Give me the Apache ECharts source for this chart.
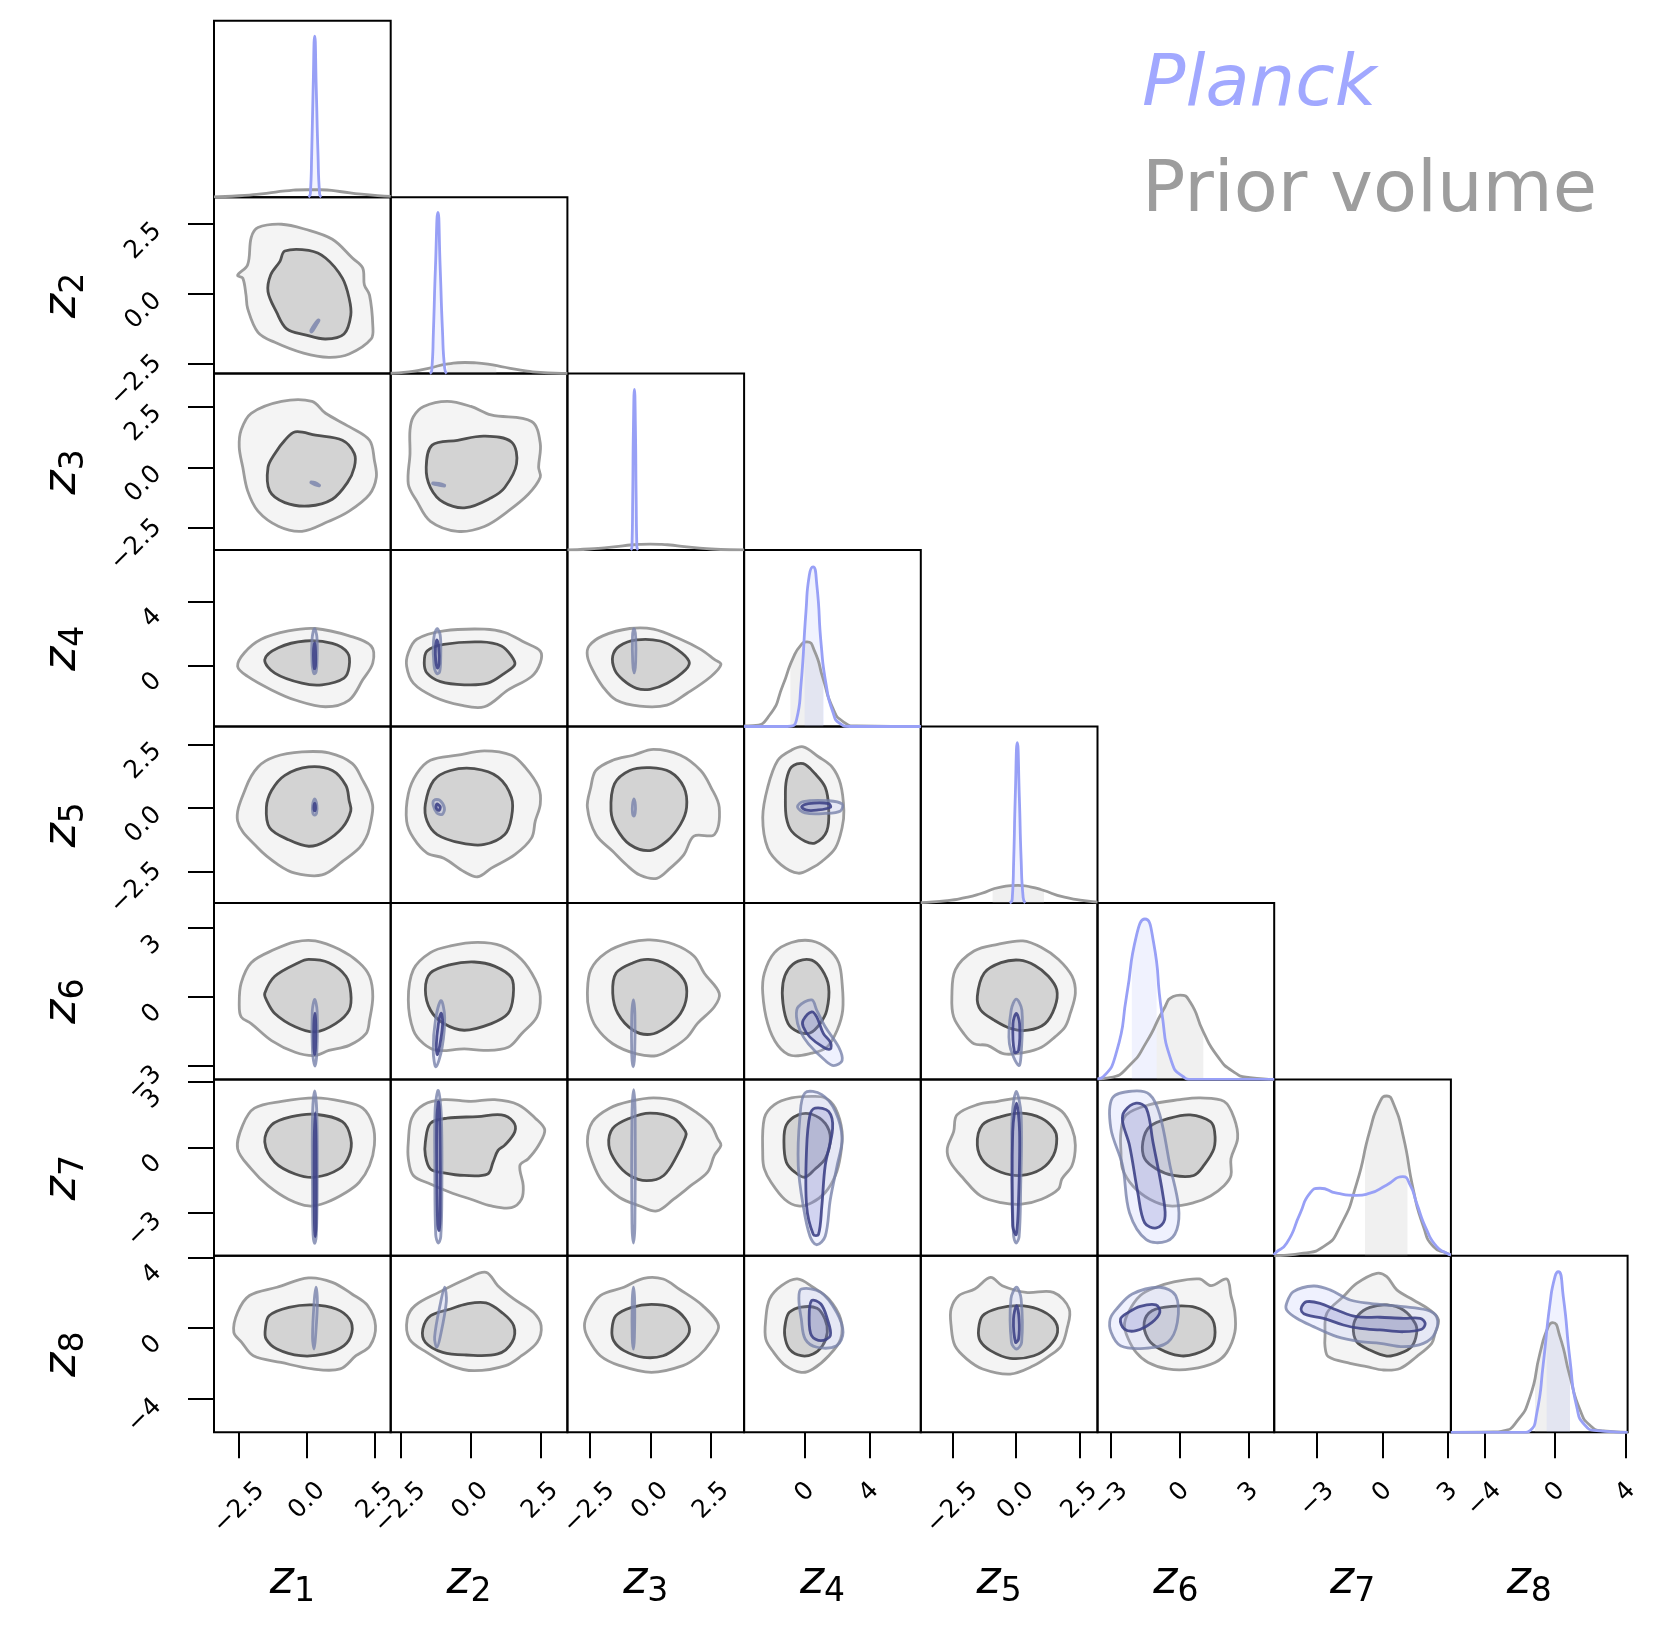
<!DOCTYPE html>
<html><head><meta charset="utf-8">
<script src="https://cdn.jsdelivr.net/npm/echarts@6/dist/echarts.min.js"></script>
<style>html,body{margin:0;padding:0;background:#fff}#c{width:1661px;height:1628px}</style>
</head><body><div id="c"></div><script>
// ---------- axes / variables ----------
const VARS = ['1','2','3','4','5','6','7','8'];
const VMIN = [-3.43,-2.85,-3.40,-3.80,-3.74,-3.58,-4.97,-5.90];
const VMAX = [3.08,3.47,3.85,7.20,3.20,4.10,3.13,4.10];
const TICKS = [[-2.5,0,2.5],[-2.5,0,2.5],[-2.5,0,2.5],[0,4],[-2.5,0,2.5],[-3,0,3],[-3,0,3],[-4,0,4]];
const TICK_DEC = [1,1,1,0,1,0,0,0];

// ---------- 2D contours (prior: P, Planck: Q; o = outer, i = inner) ----------
const P12o=[[-1.81,2.38],[-0.94,2.50],[-0.07,2.32],[0.93,1.96],[1.67,1.29],[2.05,0.93],[2.11,0.33],[2.30,-0.04],[2.42,-1.12],[2.36,-1.61],[1.55,-2.15],[0.80,-2.27],[-0.13,-2.12],[-1.19,-1.73],[-1.81,-1.37],[-2.19,-0.52],[-2.25,-0.04],[-2.37,0.57],[-2.56,0.67],[-2.19,1.05],[-2.06,2.02]];
const P12i=[[-0.82,1.54],[0.06,1.56],[0.68,1.29],[1.30,0.57],[1.55,-0.16],[1.61,-0.76],[1.36,-1.43],[0.68,-1.61],[-0.07,-1.46],[-0.75,-1.25],[-1.13,-0.64],[-1.44,0.08],[-1.34,0.69],[-1.00,1.17]];
const Q12o=[[0.15,-1.36],[0.22,-1.30],[0.38,-1.05],[0.44,-0.94],[0.40,-0.93],[0.26,-1.10],[0.14,-1.30]];

const P13o=[[-2.43,1.53],[-2.06,2.22],[-0.94,2.71],[0.18,2.71],[0.68,2.22],[1.55,1.67],[2.30,1.11],[2.48,0.28],[2.55,-0.41],[2.30,-1.11],[1.55,-1.80],[0.80,-2.22],[-0.19,-2.63],[-1.06,-2.42],[-1.81,-1.80],[-2.19,-0.97],[-2.37,0.00],[-2.50,0.83]];
const P13i=[[-0.82,1.11],[-0.44,1.46],[0.31,1.32],[1.30,1.11],[1.74,0.56],[1.74,0.00],[1.49,-0.62],[0.93,-1.31],[0.06,-1.59],[-0.82,-1.45],[-1.38,-0.97],[-1.44,0.00],[-1.19,0.56]];
const Q13o=[[0.15,-0.60],[0.30,-0.63],[0.46,-0.74],[0.44,-0.76],[0.28,-0.71],[0.14,-0.63]];

const P23o=[[-2.04,2.08],[-1.67,2.50],[-0.83,2.71],[0.02,2.50],[0.74,2.15],[2.19,1.88],[2.50,0.98],[2.44,0.00],[2.50,-0.41],[2.07,-1.11],[1.35,-1.80],[0.50,-2.43],[-0.46,-2.63],[-1.43,-2.22],[-1.92,-1.38],[-2.22,-0.69],[-2.16,0.56],[-2.16,1.53]];
const P23i=[[-1.37,0.91],[-0.46,1.11],[0.50,1.28],[1.47,1.04],[1.65,0.14],[1.23,-0.83],[0.75,-1.25],[-0.16,-1.66],[-0.95,-1.45],[-1.43,-0.83],[-1.58,0.00]];
const Q23o=[[-1.34,-0.64],[-1.13,-0.66],[-0.92,-0.74],[-0.93,-0.77],[-1.14,-0.73],[-1.35,-0.67]];

const P14o=[[-2.56,-0.05],[-2.31,0.80],[-1.69,1.64],[-0.69,2.16],[0.30,2.31],[1.55,1.85],[2.36,1.22],[2.42,0.16],[2.05,-0.89],[1.55,-2.15],[0.68,-2.57],[-0.44,-2.15],[-1.31,-1.52],[-2.19,-0.68]];
const P14i=[[-1.56,0.37],[-1.06,1.11],[-0.07,1.53],[0.93,1.38],[1.49,0.80],[1.55,-0.05],[1.36,-0.78],[0.55,-1.20],[-0.19,-1.10],[-1.19,-0.47]];
const Q14o=[[0.27,2.3],[0.36,1.8],[0.37,0.5],[0.33,-0.4],[0.25,-0.5],[0.18,0.2],[0.18,1.6]];
const Q14i=[[0.28,1.4],[0.31,0.9],[0.31,0.0],[0.27,-0.2],[0.24,0.3],[0.24,1.0]];

const P24o=[[-2.22,0.80],[-1.92,1.64],[-0.95,2.16],[0.50,2.27],[1.23,2.06],[1.95,1.43],[2.50,0.90],[2.50,0.16],[2.19,-0.68],[1.35,-1.52],[0.50,-2.57],[-0.34,-2.47],[-1.31,-1.94],[-2.04,-1.10],[-2.28,-0.05]];
const P24i=[[-1.55,0.90],[-0.95,1.32],[0.38,1.47],[1.11,1.22],[1.47,0.59],[1.59,0.06],[1.23,-0.47],[0.62,-1.10],[-0.22,-1.20],[-1.07,-1.00],[-1.55,-0.47],[-1.65,0.16]];
const Q24o=[[-1.2,2.3],[-1.08,1.9],[-1.06,0.6],[-1.1,-0.4],[-1.2,-0.5],[-1.3,0.0],[-1.32,1.5]];
const Q24i=[[-1.2,1.6],[-1.13,1.1],[-1.12,0.1],[-1.18,-0.15],[-1.24,0.3],[-1.25,1.1]];

const P34o=[[-2.51,1.22],[-1.95,1.85],[-0.84,2.31],[0.13,2.27],[1.24,1.64],[2.07,1.01],[2.63,0.38],[2.90,0.06],[2.49,-0.68],[1.51,-1.73],[0.68,-2.47],[-0.43,-2.53],[-1.40,-2.15],[-1.95,-1.31],[-2.37,-0.26],[-2.58,0.59]];
const P34i=[[-1.54,0.59],[-1.26,1.22],[-0.56,1.60],[0.41,1.53],[1.10,1.01],[1.59,0.27],[1.45,-0.26],[0.69,-1.10],[-0.01,-1.48],[-0.56,-1.42],[-1.12,-0.89],[-1.46,-0.26]];
const Q34o=[[-0.67,2.3],[-0.6,1.8],[-0.6,0.2],[-0.66,-0.45],[-0.72,0.2],[-0.73,1.8]];

const P15o=[[-2.56,-0.52],[-2.25,0.81],[-1.81,1.61],[-1.19,2.01],[-0.19,2.20],[0.80,2.16],[1.67,1.74],[2.05,1.08],[2.30,0.55],[2.42,0.02],[2.30,-0.78],[2.17,-1.18],[1.92,-1.58],[1.30,-2.11],[0.55,-2.64],[-0.44,-2.57],[-1.06,-2.24],[-1.81,-1.58]];
const P15i=[[-1.50,0.02],[-1.31,0.68],[-0.82,1.28],[0.06,1.61],[0.93,1.47],[1.43,0.88],[1.55,0.28],[1.61,-0.12],[1.30,-0.78],[0.68,-1.31],[0.06,-1.51],[-0.69,-1.25],[-1.38,-0.78]];
const Q15o=[[0.28,0.35],[0.36,0.1],[0.35,-0.2],[0.28,-0.28],[0.21,-0.2],[0.2,0.1]];
const Q15i=[[0.28,0.18],[0.31,0.0],[0.28,-0.12],[0.25,0.0]];

const P25o=[[-2.22,0.55],[-1.92,1.34],[-1.43,1.87],[-0.46,2.07],[0.50,2.24],[1.47,2.07],[1.95,1.61],[2.44,0.81],[2.50,0.15],[2.32,-0.52],[2.19,-1.18],[1.59,-1.84],[0.75,-2.37],[0.26,-2.71],[-0.22,-2.51],[-0.95,-1.98],[-1.55,-1.78],[-2.04,-1.18],[-2.28,-0.52]];
const P25i=[[-1.61,0.15],[-1.31,1.08],[-0.71,1.47],[0.14,1.54],[0.99,1.21],[1.47,0.41],[1.47,-0.38],[1.23,-1.05],[0.50,-1.44],[-0.34,-1.38],[-1.19,-1.05],[-1.55,-0.52]];
const Q25o=[[-1.3,0.3],[-1.1,0.3],[-0.93,0.0],[-1.0,-0.25],[-1.2,-0.2],[-1.33,0.1]];
const Q25i=[[-1.2,0.15],[-1.08,0.05],[-1.12,-0.1],[-1.22,-0.02]];

const P35o=[[-2.58,0.02],[-2.44,0.81],[-2.23,1.47],[-1.54,1.87],[-0.70,2.07],[0.13,2.30],[1.24,2.07],[2.07,1.47],[2.49,0.81],[2.83,0.02],[2.63,-1.05],[1.79,-1.11],[1.38,-1.84],[0.82,-2.37],[0.27,-2.77],[-0.43,-2.64],[-0.98,-2.24],[-1.54,-1.71],[-2.23,-1.05]];
const P35i=[[-1.61,-0.12],[-1.47,0.94],[-0.84,1.47],[-0.01,1.58],[0.82,1.41],[1.38,0.81],[1.49,0.02],[1.24,-0.65],[0.68,-1.31],[-0.01,-1.68],[-0.84,-1.44],[-1.40,-0.78]];
const Q35o=[[-0.67,0.35],[-0.61,0.1],[-0.62,-0.2],[-0.68,-0.32],[-0.73,-0.2],[-0.73,0.1]];

const P45o=[[-2.64,-0.38],[-2.33,0.81],[-1.70,1.87],[-0.85,2.27],[-0.12,2.40],[0.83,2.01],[1.67,1.61],[2.20,0.94],[2.41,-0.12],[2.30,-0.78],[1.88,-1.58],[1.04,-2.11],[0.41,-2.37],[-0.43,-2.57],[-1.49,-2.24],[-2.33,-1.58]];
const P45i=[[-1.17,1.08],[-0.85,1.61],[-0.12,1.74],[0.62,1.34],[1.25,0.81],[1.46,0.02],[1.35,-0.91],[0.62,-1.38],[-0.01,-1.31],[-0.85,-0.91],[-1.17,-0.38],[-1.23,0.41]];
const Q45o=[[-0.48,0.04],[-0.12,0.25],[1.46,0.28],[2.30,0.15],[2.20,-0.12],[1.25,-0.22],[-0.01,-0.20]];
const Q45i=[[-0.22,0.04],[0.20,0.17],[1.46,0.17],[1.57,0.02],[0.72,-0.09],[0.09,-0.09]];

const P16o=[[-2.50,-0.27],[-2.43,0.61],[-2.06,1.50],[-1.19,2.08],[-0.44,2.41],[0.30,2.45],[1.18,2.08],[1.92,1.50],[2.30,0.91],[2.42,0.03],[2.30,-1.00],[2.17,-1.59],[1.55,-2.10],[0.80,-2.32],[0.30,-2.54],[-0.44,-2.40],[-1.31,-1.89],[-2.06,-1.15],[-2.43,-0.86]];
const P16i=[[-1.56,0.17],[-1.19,0.91],[-0.32,1.50],[0.06,1.64],[0.80,1.50],[1.43,0.91],[1.61,0.17],[1.55,-0.56],[1.05,-1.15],[0.30,-1.51],[-0.44,-1.29],[-1.19,-0.71],[-1.50,-0.12]];
const Q16o=[[0.28,-0.1],[0.37,-0.6],[0.36,-2.4],[0.29,-3.0],[0.2,-2.4],[0.19,-0.6]];
const Q16i=[[0.29,-0.7],[0.32,-1.2],[0.31,-2.2],[0.28,-2.5],[0.25,-2.2],[0.25,-1.2]];

const P26o=[[-2.22,-0.12],[-2.04,1.20],[-1.43,1.94],[-0.71,2.23],[0.26,2.38],[1.11,2.23],[1.83,1.64],[2.32,0.76],[2.50,0.03],[2.38,-0.86],[1.83,-1.59],[1.35,-2.18],[0.50,-2.32],[-0.22,-2.25],[-1.19,-2.32],[-1.67,-2.03],[-2.04,-1.44]];
const P26i=[[-1.61,0.32],[-1.43,1.05],[-0.71,1.42],[0.14,1.53],[0.86,1.35],[1.47,0.84],[1.53,0.03],[1.35,-0.71],[0.75,-1.15],[-0.22,-1.44],[-0.95,-1.15],[-1.43,-0.56]];
const Q26o=[[-1.05,-0.15],[-0.92,-0.86],[-1.01,-2.18],[-1.23,-3.03],[-1.33,-2.32],[-1.25,-1.0]];
const Q26i=[[-1.05,-0.7],[-0.99,-1.1],[-1.08,-2.0],[-1.18,-2.5],[-1.22,-2.1],[-1.15,-1.2]];

const P36o=[[-2.58,0.17],[-2.44,1.20],[-1.81,1.94],[-0.84,2.38],[-0.01,2.49],[0.96,2.30],[1.79,1.79],[2.21,1.05],[2.83,0.17],[2.63,-0.42],[1.93,-1.15],[1.52,-1.74],[0.96,-2.18],[0.27,-2.54],[-0.56,-2.47],[-1.54,-2.03],[-2.23,-1.29],[-2.51,-0.56]];
const P36i=[[-1.54,0.17],[-1.40,1.05],[-0.70,1.50],[-0.08,1.64],[0.68,1.42],[1.38,0.76],[1.49,0.03],[1.24,-0.71],[0.68,-1.29],[-0.01,-1.62],[-0.70,-1.44],[-1.33,-0.71]];
const Q36o=[[-0.69,-0.12],[-0.63,-0.8],[-0.64,-2.5],[-0.7,-3.03],[-0.76,-2.5],[-0.76,-0.8]];

const P46o=[[-2.64,0.17],[-2.54,1.05],[-1.91,1.94],[-0.85,2.38],[0.41,2.45],[1.46,2.08],[2.09,1.50],[2.30,0.61],[2.34,-0.56],[1.99,-1.44],[1.35,-2.18],[0.41,-2.44],[-0.85,-2.54],[-1.70,-2.10],[-2.33,-1.15]];
const P46i=[[-1.38,0.61],[-1.06,1.20],[-0.43,1.57],[0.41,1.61],[1.04,1.20],[1.46,0.47],[1.35,-0.56],[0.93,-1.15],[0.30,-1.56],[-0.43,-1.51],[-1.06,-1.15],[-1.38,-0.27]];
const Q46o=[[-0.43,-0.42],[0.41,-0.12],[0.72,-0.56],[1.25,-1.29],[2.09,-2.18],[2.30,-2.76],[1.78,-2.98],[1.25,-2.76],[0.20,-2.03],[-0.33,-1.44],[-0.54,-0.86]];
const Q46i=[[-0.12,-1.00],[0.41,-0.64],[0.72,-0.86],[1.14,-1.59],[1.57,-1.96],[1.57,-2.25],[1.14,-2.18],[0.30,-1.74],[-0.12,-1.29]];

const P56o=[[-2.52,0.03],[-2.38,1.20],[-1.65,2.01],[-0.72,2.30],[0.27,2.45],[1.00,2.16],[1.67,1.64],[2.20,0.91],[2.33,0.17],[2.13,-0.71],[1.93,-1.29],[1.53,-1.73],[1.00,-2.18],[0.34,-2.40],[-0.46,-2.47],[-1.12,-2.10],[-1.65,-2.03],[-2.05,-1.59],[-2.45,-0.86]];
const P56i=[[-1.52,0.03],[-1.25,1.05],[-0.59,1.50],[0.14,1.61],[0.74,1.38],[1.27,0.91],[1.60,0.32],[1.53,-0.42],[1.14,-1.15],[0.47,-1.44],[-0.19,-1.37],[-0.86,-1.00],[-1.39,-0.56]];
const Q56o=[[0.01,-0.09],[0.23,-0.56],[0.21,-2.32],[0.11,-2.98],[-0.26,-2.03],[-0.19,-0.56]];
const Q56i=[[0.01,-0.71],[0.14,-1.15],[0.10,-2.32],[-0.06,-2.40],[-0.12,-1.15]];

const P17o=[[-2.56,-0.05],[-2.37,1.04],[-1.94,1.81],[-0.94,2.12],[0.30,2.28],[1.30,2.12],[2.05,1.81],[2.42,1.04],[2.48,0.11],[2.30,-0.82],[1.92,-1.59],[1.43,-2.06],[0.68,-2.53],[0.06,-2.68],[-0.69,-2.37],[-1.44,-1.75],[-2.06,-0.98]];
const P17i=[[-1.56,0.26],[-1.31,1.04],[-0.57,1.42],[0.30,1.53],[1.30,1.19],[1.61,0.42],[1.55,-0.36],[1.18,-0.98],[0.30,-1.36],[-0.44,-1.21],[-1.19,-0.67]];
const Q17o=[[0.28,2.6],[0.36,1.5],[0.37,-2.0],[0.34,-4.0],[0.28,-4.4],[0.22,-4.0],[0.2,-2.0],[0.2,1.5]];
const Q17i=[[0.3,1.6],[0.33,0.0],[0.33,-3.5],[0.3,-4.1],[0.27,-3.5],[0.26,0.0]];

const P27o=[[-2.22,0.26],[-2.10,1.35],[-1.67,1.97],[-0.95,2.20],[0.02,2.12],[0.87,2.20],[1.71,1.97],[2.32,1.35],[2.66,0.81],[2.44,0.11],[2.07,-0.51],[1.77,-0.82],[1.89,-1.75],[1.83,-2.37],[1.47,-2.76],[0.75,-2.68],[0.02,-2.37],[-0.71,-2.06],[-1.43,-1.67],[-2.04,-1.28],[-2.22,-0.51]];
const P27i=[[-1.61,0.26],[-1.43,1.11],[-0.83,1.35],[0.26,1.42],[1.11,1.50],[1.53,1.19],[1.59,0.73],[1.23,0.11],[0.99,-0.13],[0.81,-0.67],[0.62,-1.21],[-0.22,-1.28],[-0.95,-1.16],[-1.43,-0.98],[-1.61,-0.36]];
const Q27o=[[-1.15,2.62],[-1.04,1.5],[-1.02,-2.0],[-1.06,-4.1],[-1.15,-4.38],[-1.24,-4.0],[-1.27,-1.0],[-1.26,1.8]];
const Q27i=[[-1.14,2.1],[-1.09,1.0],[-1.08,-3.0],[-1.12,-3.8],[-1.17,-3.5],[-1.2,-1.0],[-1.2,1.3]];

const P37o=[[-2.58,0.26],[-2.37,1.19],[-1.67,1.81],[-0.84,2.12],[0.13,2.28],[1.10,2.12],[1.93,1.58],[2.49,1.04],[2.76,0.42],[2.90,0.11],[2.63,-0.36],[2.35,-1.13],[1.66,-1.75],[0.96,-2.37],[0.27,-2.91],[-0.43,-2.68],[-1.26,-2.29],[-1.95,-1.59],[-2.37,-0.67]];
const P37i=[[-1.70,0.11],[-1.54,0.88],[-0.84,1.35],[-0.01,1.58],[0.96,1.35],[1.45,0.73],[1.45,0.50],[1.10,-0.36],[0.55,-1.28],[-0.15,-1.52],[-0.84,-1.28],[-1.40,-0.67]];
const Q37o=[[-0.68,2.66],[-0.62,1.5],[-0.63,-3.5],[-0.69,-4.38],[-0.75,-3.5],[-0.75,1.5]];

const P47o=[[-2.64,-0.36],[-2.54,1.35],[-1.91,1.97],[-0.85,2.28],[0.41,2.35],[1.25,2.28],[1.88,1.81],[2.30,0.73],[2.20,-0.36],[1.88,-1.28],[1.25,-2.06],[0.41,-2.53],[-0.43,-2.68],[-1.28,-2.37],[-2.12,-1.59],[-2.54,-0.98]];
const P47i=[[-1.32,0.26],[-1.17,1.04],[-0.43,1.50],[0.41,1.53],[1.25,1.11],[1.57,0.42],[1.25,-0.51],[0.62,-0.98],[-0.01,-1.36],[-0.64,-1.13],[-1.17,-0.67]];
const Q47o=[[-0.01,2.51],[1.04,2.43],[1.88,1.66],[2.30,0.42],[1.99,-0.82],[1.57,-2.37],[1.25,-4.07],[0.72,-4.46],[0.30,-4.07],[-0.12,-2.68],[-0.43,-0.82],[-0.33,1.35]];
const Q47i=[[0.62,1.81],[1.46,1.66],[1.71,0.88],[1.25,-0.82],[1.04,-2.68],[0.83,-3.99],[0.51,-3.99],[0.09,-2.68],[0.09,-0.05],[0.30,1.50]];

const P57o=[[-2.70,-0.05],[-2.45,0.73],[-2.32,1.50],[-1.52,1.97],[-0.72,2.12],[0.21,2.28],[1.00,2.12],[1.80,1.66],[2.20,0.88],[2.33,0.11],[2.20,-0.82],[1.80,-1.44],[1.67,-1.90],[1.00,-2.37],[0.21,-2.60],[-0.59,-2.53],[-1.39,-2.22],[-2.05,-1.44],[-2.58,-0.67]];
const P57i=[[-1.52,0.11],[-1.32,1.04],[-0.59,1.42],[0.21,1.58],[1.00,1.35],[1.47,0.88],[1.60,0.42],[1.47,-0.36],[1.00,-0.98],[0.21,-1.28],[-0.59,-1.13],[-1.25,-0.67]];
const Q57o=[[0.01,2.58],[0.2,1.5],[0.18,-2.0],[0.12,-4.1],[0.0,-4.38],[-0.1,-4.0],[-0.15,-1.0],[-0.15,1.5]];
const Q57i=[[0.02,2.04],[0.14,0.73],[0.1,-2.37],[0.01,-3.99],[-0.13,-3.6],[-0.13,0.73]];

const P67o=[[-2.56,0.73],[-2.34,1.50],[-1.31,1.97],[0.01,2.20],[0.89,2.28],[1.92,2.12],[2.36,1.35],[2.51,0.42],[2.22,-0.51],[2.22,-1.28],[1.92,-1.75],[1.33,-2.22],[0.60,-2.53],[-0.43,-2.68],[-1.31,-2.37],[-2.05,-1.75],[-2.49,-0.98],[-2.56,-0.20]];
const P67i=[[-1.61,0.26],[-1.31,0.96],[-0.43,1.35],[0.45,1.50],[1.33,1.19],[1.51,0.73],[1.48,-0.05],[1.04,-0.82],[0.60,-1.28],[-0.28,-1.28],[-1.02,-0.98],[-1.53,-0.51]];
const Q67o=[[-2.93,2.28],[-2.05,2.59],[-1.31,2.43],[-0.87,1.50],[-0.43,-0.82],[-0.06,-2.68],[-0.13,-3.76],[-0.58,-4.30],[-1.46,-4.23],[-2.19,-2.99],[-2.49,-0.82],[-3.0,0.88]];
const Q67i=[[-2.41,1.66],[-1.9,2.04],[-1.46,1.81],[-1.17,0.26],[-0.73,-2.22],[-0.66,-3.3],[-1.02,-3.69],[-1.53,-3.45],[-1.83,-2.06],[-2.19,0.11],[-2.49,1.19]];

const P18o=[[-2.56,0.90],[-2.12,1.85],[-1.11,2.32],[0.05,2.85],[0.93,2.60],[1.65,1.94],[2.23,1.28],[2.52,0.14],[2.32,-0.99],[1.80,-1.56],[1.22,-2.31],[0.20,-2.31],[-0.96,-1.94],[-1.98,-1.56],[-2.41,-0.80],[-2.70,-0.23]];
const P18i=[[-1.54,-0.05],[-1.40,0.71],[-0.67,1.18],[0.20,1.32],[1.07,1.09],[1.56,0.52],[1.65,-0.23],[1.36,-0.99],[0.64,-1.46],[-0.24,-1.56],[-1.11,-1.18],[-1.51,-0.61]];
const Q18o=[[0.33,2.32],[0.38,1.5],[0.31,-0.5],[0.26,-1.18],[0.2,-0.5],[0.26,1.5]];

const P28o=[[-2.26,0.52],[-1.98,1.28],[-1.13,2.03],[-0.15,2.79],[0.56,3.17],[0.98,2.41],[1.55,1.66],[2.25,0.90],[2.53,0.14],[2.39,-0.80],[1.83,-1.56],[1.26,-2.12],[0.14,-2.41],[-0.71,-2.12],[-1.56,-1.37],[-2.18,-0.61]];
const P28i=[[-1.70,-0.05],[-1.42,0.71],[-0.71,1.09],[-0.15,1.37],[0.56,1.43],[1.12,0.90],[1.55,0.14],[1.49,-0.80],[0.98,-1.46],[-0.15,-1.52],[-0.99,-1.37],[-1.61,-0.80]];
const Q28o=[[-0.92,2.32],[-0.86,1.5],[-1.08,-0.5],[-1.2,-1.08],[-1.28,-0.5],[-1.06,1.5]];

const P38o=[[-2.54,0.90],[-2.05,1.85],[-1.08,2.32],[-0.27,2.83],[0.53,2.79],[1.18,2.22],[2.15,1.28],[2.80,0.14],[2.47,-0.80],[1.99,-1.56],[1.34,-2.12],[0.05,-2.50],[-1.25,-2.12],[-2.05,-1.56],[-2.54,-0.61],[-2.70,0.14]];
const P38i=[[-1.57,-0.05],[-1.41,0.71],[-0.76,1.18],[0.05,1.35],[0.86,1.18],[1.44,0.52],[1.60,-0.23],[1.18,-0.99],[0.53,-1.56],[-0.27,-1.65],[-1.08,-1.27],[-1.50,-0.71]];
const Q38o=[[-0.69,2.32],[-0.64,1.5],[-0.65,-0.5],[-0.69,-1.18],[-0.74,-0.5],[-0.74,1.5]];

const P48o=[[-2.45,0.52],[-2.21,1.66],[-1.47,2.41],[-0.49,2.79],[0.49,2.32],[1.47,1.66],[2.21,0.52],[2.21,-0.61],[1.47,-1.56],[0.49,-2.31],[-0.24,-2.50],[-1.22,-2.12],[-1.96,-1.37],[-2.45,-0.61]];
const P48i=[[-1.22,0.33],[-0.98,0.90],[-0.24,1.20],[0.74,1.13],[1.23,0.52],[1.38,-0.23],[1.08,-0.99],[0.49,-1.46],[-0.24,-1.56],[-0.98,-1.18],[-1.27,-0.42]];
const Q48o=[[-0.24,2.22],[0.98,2.03],[1.96,0.90],[2.36,-0.23],[1.96,-0.99],[0.74,-1.08],[0.0,-0.61],[-0.24,0.52],[-0.39,1.66]];
const Q48i=[[0.40,1.56],[0.98,1.37],[1.38,0.52],[1.57,-0.42],[0.98,-0.71],[0.40,-0.42],[0.25,0.52]];

const P58o=[[-2.55,1.09],[-2.24,1.85],[-1.62,2.22],[-1.00,2.88],[-0.54,2.41],[0.39,2.03],[1.47,2.03],[2.09,1.09],[2.00,-0.05],[1.78,-0.99],[1.32,-1.56],[0.70,-2.12],[-0.23,-2.60],[-1.31,-2.31],[-1.93,-1.75],[-2.40,-0.99],[-2.55,0.14]];
const P58i=[[-1.47,-0.05],[-1.31,0.71],[-0.70,1.13],[0.08,1.28],[0.85,1.09],[1.47,0.52],[1.63,-0.23],[1.32,-0.99],[0.70,-1.56],[-0.23,-1.71],[-1.00,-1.27],[-1.41,-0.71]];
const Q58o=[[0.02,2.32],[0.2,1.66],[0.22,-0.80],[0.02,-1.18],[-0.18,-0.80],[-0.2,1.66]];
const Q58i=[[0.02,1.28],[0.12,0.52],[0.1,-0.61],[-0.02,-0.80],[-0.1,0.52]];

const P68o=[[-2.24,0.90],[-1.72,1.85],[-1.04,2.32],[-0.35,2.60],[0.84,2.79],[1.36,2.41],[2.04,2.79],[2.22,1.85],[2.39,0.90],[2.39,-0.23],[2.04,-1.37],[1.53,-1.94],[0.50,-2.31],[-0.53,-2.31],[-1.38,-1.94],[-1.90,-1.37],[-2.24,-0.61],[-2.41,0.14]];
const P68i=[[-1.55,0.33],[-1.21,0.99],[-0.35,1.24],[0.67,1.18],[1.36,0.62],[1.53,-0.23],[1.36,-0.99],[0.67,-1.46],[-0.01,-1.56],[-0.87,-1.18],[-1.38,-0.61]];
const Q68o=[[-2.75,1.09],[-2.07,1.94],[-0.87,2.32],[-0.18,1.85],[-0.11,0.33],[-0.53,-0.80],[-1.55,-1.14],[-2.58,-0.99],[-2.99,-0.23],[-3.03,0.52]];
const Q68i=[[-2.24,0.90],[-1.72,1.24],[-1.04,1.32],[-0.87,0.90],[-1.21,0.33],[-1.90,-0.14],[-2.41,-0.05],[-2.58,0.52]];

const P78o=[[-2.64,-0.48],[-2.56,0.84],[-1.80,1.79],[-1.19,2.54],[-0.27,3.11],[0.19,2.92],[0.65,2.17],[1.41,1.60],[2.17,1.03],[2.56,0.47],[2.40,-0.29],[2.25,-0.86],[1.56,-1.61],[0.80,-2.28],[0.04,-2.37],[-0.73,-2.18],[-1.49,-1.99],[-2.49,-1.61],[-2.64,-1.05]];
const P78i=[[-1.34,0.09],[-1.11,0.75],[-0.58,1.18],[0.19,1.32],[0.95,1.03],[1.49,0.28],[1.56,-0.29],[1.33,-1.05],[0.80,-1.43],[0.19,-1.58],[-0.58,-1.24],[-1.19,-0.76]];
const Q78o=[[-4.40,1.41],[-4.09,2.07],[-3.17,2.39],[-2.41,2.17],[-1.49,1.60],[-0.58,1.41],[0.95,1.22],[2.02,1.03],[2.48,0.65],[2.40,-0.29],[1.87,-0.86],[0.95,-1.05],[-0.12,-0.86],[-1.03,-0.76],[-2.10,-0.48],[-3.17,0.09],[-3.94,0.56],[-4.40,1.03]];
const Q78i=[[-3.71,1.22],[-3.48,1.50],[-2.87,1.41],[-2.10,1.03],[-1.19,0.65],[-0.12,0.62],[0.95,0.56],[1.72,0.56],[1.95,0.28],[1.79,-0.06],[0.95,-0.20],[-0.12,-0.10],[-1.03,-0.01],[-1.80,0.18],[-2.71,0.56],[-3.48,0.75],[-3.71,0.94]];

// ---------- 1D marginals (height as fraction of panel) ----------
const D1_planck=[[0.05,0],[0.12,0.02],[0.17,0.25],[0.22,0.6],[0.28,0.913],[0.34,0.6],[0.40,0.25],[0.46,0.02],[0.52,0]];
const D1_prior=[[-3.43,0.002],[-2.5,0.008],[-1.5,0.022],[-0.8,0.035],[0,0.042],[0.5,0.042],[1.2,0.032],[2.0,0.017],[3.08,0.004]];
const D2_planck=[[-1.45,0],[-1.38,0.02],[-1.32,0.25],[-1.25,0.6],[-1.16,0.914],[-1.08,0.6],[-1.0,0.25],[-0.92,0.03],[-0.85,0]];
const D2_prior=[[-2.85,0.002],[-2.2,0.01],[-1.5,0.03],[-0.8,0.055],[-0.2,0.063],[0.4,0.058],[1.1,0.04],[1.8,0.02],[2.5,0.007],[3.47,0.001]];
const D2_priorBand=[[-0.83,0.053],[-0.2,0.063],[0.4,0.058],[0.93,0.045]];
const D3_planck=[[-0.8,0],[-0.75,0.02],[-0.72,0.3],[-0.69,0.7],[-0.65,0.91],[-0.61,0.7],[-0.58,0.3],[-0.55,0.02],[-0.5,0]];
const D3_prior=[[-3.4,0.001],[-2.5,0.006],[-1.5,0.018],[-0.7,0.03],[0,0.034],[0.7,0.03],[1.5,0.018],[2.5,0.006],[3.85,0.001]];
const D4_planck=[[-3.8,0],[-1.1,0],[-0.54,0.037],[-0.26,0.235],[0.05,0.65],[0.26,0.858],[0.49,0.905],[0.73,0.80],[1.0,0.462],[1.31,0.235],[1.72,0.084],[2.15,0.018],[2.77,0],[7.2,0]];
const D4_prior=[[-3.8,0.003],[-3.25,0.005],[-2.21,0.065],[-1.38,0.235],[-0.76,0.386],[-0.23,0.465],[0.115,0.48],[0.60,0.424],[1.11,0.273],[1.73,0.103],[2.36,0.028],[3.19,0.003],[7.2,0]];
const D4_priorBand=[[-0.92,0.35],[-0.76,0.386],[-0.23,0.465],[0.115,0.48],[0.6,0.424],[1.11,0.273]];
const D4_planckBand=[[-0.03,0.63],[0.05,0.65],[0.26,0.858],[0.49,0.905],[0.73,0.80],[1.0,0.462],[1.17,0.32]];
const D5_planck=[[-0.25,0],[-0.15,0.02],[-0.09,0.25],[-0.03,0.6],[0.05,0.908],[0.13,0.6],[0.2,0.25],[0.28,0.03],[0.36,0]];
const D5_prior=[[-3.74,0.002],[-2.7,0.013],[-2.0,0.03],[-1.4,0.052],[-0.6,0.09],[0.07,0.1],[0.6,0.09],[1.0,0.075],[1.9,0.033],[3.0,0.008],[3.2,0.005]];
const D5_priorBand=[[-0.92,0.077],[-0.6,0.09],[0.07,0.1],[0.6,0.09],[1.0,0.075],[1.1,0.07]];
const D6_planck=[[-3.58,0.003],[-3.33,0.015],[-2.75,0.157],[-2.31,0.478],[-1.88,0.819],[-1.52,0.909],[-1.15,0.781],[-0.79,0.384],[-0.36,0.1],[0.15,0.015],[0.5,0],[4.1,0]];
const D6_prior=[[-3.58,0.002],[-3.04,0.01],[-2.17,0.082],[-1.44,0.214],[-0.72,0.393],[-0.29,0.47],[0.01,0.478],[0.44,0.44],[1.02,0.27],[1.6,0.138],[2.32,0.044],[3.05,0.01],[4.1,0]];
const D6_planckBand=[[-2.09,0.66],[-1.88,0.819],[-1.52,0.909],[-1.15,0.781],[-1.01,0.64]];
const D6_priorBand=[[-1.01,0.33],[-0.72,0.393],[-0.29,0.47],[0.01,0.478],[0.44,0.44],[1.02,0.27]];
const D7_planck=[[-4.97,0.005],[-4.93,0.015],[-4.40,0.071],[-3.78,0.241],[-3.33,0.355],[-2.87,0.383],[-2.10,0.355],[-1.19,0.343],[-0.58,0.355],[0.19,0.402],[0.92,0.449],[1.26,0.402],[1.56,0.298],[2.02,0.147],[2.48,0.052],[2.94,0.015],[3.13,0.005]];
const D7_prior=[[-4.97,0],[-3.63,0.015],[-2.71,0.052],[-1.95,0.166],[-1.19,0.411],[-0.58,0.713],[-0.12,0.874],[0.19,0.906],[0.49,0.865],[0.95,0.675],[1.41,0.373],[1.87,0.166],[2.33,0.052],[2.94,0.015],[3.13,0.005]];
const D7_priorBand=[[-0.81,0.62],[-0.58,0.713],[-0.12,0.874],[0.19,0.906],[0.49,0.865],[0.95,0.675],[1.14,0.56]];
const D8_planck=[[-5.9,0],[-1.8,0],[-1.42,0.01],[-1.04,0.108],[-0.67,0.391],[-0.29,0.731],[-0.01,0.882],[0.18,0.91],[0.46,0.769],[0.84,0.41],[1.22,0.145],[1.69,0.04],[2.35,0.01],[4.1,0]];
const D8_prior=[[-5.9,0],[-3.5,0.002],[-2.93,0.008],[-2.18,0.06],[-1.42,0.202],[-0.86,0.448],[-0.39,0.599],[-0.14,0.622],[0.27,0.542],[0.84,0.315],[1.41,0.126],[1.97,0.04],[2.72,0.008],[4.1,0]];
const D8_priorBand=[[-1.14,0.33],[-0.86,0.448],[-0.39,0.599],[-0.14,0.622],[0.27,0.542],[0.84,0.315]];
const D8_planckBand=[[-0.48,0.57],[-0.29,0.731],[-0.01,0.882],[0.18,0.91],[0.46,0.769],[0.84,0.41]];

const LEGEND_LABELS = ['Planck','Prior volume'];

// ---------- assembly ----------
const PANELS = [
  [1,2,P12o,P12i,Q12o,null],[1,3,P13o,P13i,Q13o,null],[2,3,P23o,P23i,Q23o,null],
  [1,4,P14o,P14i,Q14o,Q14i],[2,4,P24o,P24i,Q24o,Q24i],[3,4,P34o,P34i,Q34o,null],
  [1,5,P15o,P15i,Q15o,Q15i],[2,5,P25o,P25i,Q25o,Q25i],[3,5,P35o,P35i,Q35o,null],[4,5,P45o,P45i,Q45o,Q45i],
  [1,6,P16o,P16i,Q16o,Q16i],[2,6,P26o,P26i,Q26o,Q26i],[3,6,P36o,P36i,Q36o,null],[4,6,P46o,P46i,Q46o,Q46i],[5,6,P56o,P56i,Q56o,Q56i],
  [1,7,P17o,P17i,Q17o,Q17i],[2,7,P27o,P27i,Q27o,Q27i],[3,7,P37o,P37i,Q37o,null],[4,7,P47o,P47i,Q47o,Q47i],[5,7,P57o,P57i,Q57o,Q57i],[6,7,P67o,P67i,Q67o,Q67i],
  [1,8,P18o,P18i,Q18o,null],[2,8,P28o,P28i,Q28o,null],[3,8,P38o,P38i,Q38o,null],[4,8,P48o,P48i,Q48o,Q48i],[5,8,P58o,P58i,Q58o,Q58i],[6,8,P68o,P68i,Q68o,Q68i],[7,8,P78o,P78i,Q78o,Q78i]
];
const DIAG = [
  {v:1, planck:D1_planck, prior:D1_prior, planckFill:true},
  {v:2, planck:D2_planck, prior:D2_prior, planckFill:true, priorBand:D2_priorBand},
  {v:3, planck:D3_planck, prior:D3_prior, planckFill:true},
  {v:4, planck:D4_planck, prior:D4_prior, priorBand:D4_priorBand, planckBand:D4_planckBand},
  {v:5, planck:D5_planck, prior:D5_prior, planckFill:true, priorBand:D5_priorBand},
  {v:6, planck:D6_planck, prior:D6_prior, priorBand:D6_priorBand, planckBand:D6_planckBand},
  {v:7, planck:D7_planck, prior:D7_prior, priorBand:D7_priorBand},
  {v:8, planck:D8_planck, prior:D8_prior, priorBand:D8_priorBand, planckBand:D8_planckBand}
];

const FONT = 'DejaVu Sans';
const TICK_SIZE = 25;
const L0 = 214, T0 = 20.7, CW = 176.7, RH = 176.45;
const C_PLANCK_LINE = '#98a0f6';
const C_PRIOR_LINE = '#9a9a9a';

const measureCtx = document.createElement('canvas').getContext('2d');
measureCtx.font = TICK_SIZE + 'px "DejaVu Sans"';
function tickText(v, dec){ const a = Math.abs(v); const s = dec ? a.toFixed(1) : String(Math.round(a)); return (v < -1e-9 ? '\u2212' : '') + s; }
function nameStyle(){
  return { padding:[0,20,0,0], rich:{
    z:{fontFamily:FONT, fontStyle:'italic', fontSize:46, color:'#000', lineHeight:56, verticalAlign:'bottom', padding:[0,0,5,0]},
    s:{fontFamily:FONT, fontSize:33, color:'#000', lineHeight:44, verticalAlign:'bottom'} } };
}
function gridIndex(r,c){ return r*(r+1)/2 + c; }

const grids=[], xAxes=[], yAxes=[], series=[];
for (let r=0;r<8;r++) for (let c=0;c<=r;c++){
  const g = grids.length;
  grids.push({left:L0+c*CW, top:T0+r*RH, width:CW, height:RH, show:true, borderColor:'#000', borderWidth:2, backgroundColor:'rgba(0,0,0,0)'});
  const bottom = (r===7);
  xAxes.push({gridIndex:g, type:'value', min:VMIN[c], max:VMAX[c], position:'bottom',
    axisLine:{show:false, onZero:false}, splitLine:{show:false},
    axisTick:{show:bottom, length:26, lineStyle:{color:'#000', width:2}, customValues:TICKS[c]},
    axisLabel:{show:false},
    name: bottom ? ('{z|z}{s|'+VARS[c]+'}') : '', nameLocation:'middle', nameGap:121, nameTextStyle:nameStyle()});
  if (r===c){
    yAxes.push({gridIndex:g, type:'value', min:0, max:1, show:false, splitLine:{show:false}, axisLine:{onZero:false}});
  } else {
    const left = (c===0);
    yAxes.push({gridIndex:g, type:'value', min:VMIN[r], max:VMAX[r], position:'left',
      axisLine:{show:false, onZero:false}, splitLine:{show:false},
      axisTick:{show:left, length:26, lineStyle:{color:'#000', width:2}, customValues:TICKS[r]},
      axisLabel:{show:false},
      name: left ? ('{z|z}{s|'+VARS[r]+'}') : '', nameLocation:'middle', nameRotate:90, nameGap:123, nameTextStyle:nameStyle()});
  }
}

// rotated tick labels, placed through the axis scales
function tickLabelSeries(g, vals, dec, isX, fixed){
  return {type:'custom', coordinateSystem:'cartesian2d', xAxisIndex:g, yAxisIndex:g, clip:false, silent:true, z:10,
    data: vals.map(function(v){ return isX ? [v, fixed] : [fixed, v]; }),
    renderItem:function(params, api){
      const v = isX ? api.value(0) : api.value(1);
      const s = tickText(v, dec);
      const ext = (measureCtx.measureText(s).width + 18) * 0.3536;
      const p = api.coord([api.value(0), api.value(1)]);
      let cx, cy;
      if (isX){ cx = p[0]; cy = p[1] + 48 + ext; }
      else { cx = p[0] - 50 - ext; cy = p[1] + 17; }
      return {type:'text', x:cx, y:cy, rotation:Math.PI/4,
        style:{text:s, fontSize:TICK_SIZE, fontFamily:FONT, fontWeight:'normal', fill:'#000', align:'center', verticalAlign:'middle'}};
    }};
}
for (let c=0;c<8;c++) series.push(tickLabelSeries(gridIndex(7,c), TICKS[c], TICK_DEC[c], true, c===7 ? 0 : VMIN[7]));
for (let r=1;r<8;r++) series.push(tickLabelSeries(gridIndex(r,0), TICKS[r], TICK_DEC[r], false, VMIN[0]));

function polySeries(g, data, fill, stroke, lw){
  return {type:'custom', coordinateSystem:'cartesian2d', xAxisIndex:g, yAxisIndex:g, data:data, silent:true,
    encode:{x:0,y:1},
    renderItem:function(params, api){
      if (params.dataIndexInside !== 0) return null;
      const pts=[];
      for (let i=0;i<params.dataInsideLength;i++) pts.push(api.coord([api.value(0,i), api.value(1,i)]));
      return {type:'polygon', shape:{points:pts, smooth:0.35}, style:{fill:fill, stroke:stroke, lineWidth:lw}};
    }};
}

PANELS.forEach(function(p){
  const c = p[0]-1, r = p[1]-1, g = gridIndex(r,c);
  series.push(polySeries(g, p[2], 'rgba(150,150,150,0.10)', '#9c9c9c', 2.8));
  series.push(polySeries(g, p[3], 'rgba(115,115,115,0.26)', '#505050', 2.8));
  if (p[4]) series.push(polySeries(g, p[4], 'rgba(175,185,250,0.20)', 'rgba(120,130,170,0.80)', 2.8));
  if (p[5]) series.push(polySeries(g, p[5], 'rgba(95,100,190,0.20)', 'rgba(62,66,135,0.90)', 2.8));
});

function lineSeries(g, data, color, fill){
  const s = {type:'line', xAxisIndex:g, yAxisIndex:g, data:data, showSymbol:false, smooth:0.6, silent:true, clip:true,
    lineStyle:{color:color, width:2.8}, z:3};
  if (fill) s.areaStyle = {color:fill, origin:'start'};
  return s;
}
function bandSeries(g, data, fill){
  return {type:'line', xAxisIndex:g, yAxisIndex:g, data:data, showSymbol:false, smooth:0.6, silent:true, clip:true,
    lineStyle:{width:0, opacity:0}, areaStyle:{color:fill, origin:'start'}, z:1};
}
DIAG.forEach(function(d){
  const k = d.v-1, g = gridIndex(k,k);
  if (d.priorBand) series.push(bandSeries(g, d.priorBand, 'rgba(190,190,190,0.32)'));
  if (d.planckBand) series.push(bandSeries(g, d.planckBand, 'rgba(150,160,245,0.20)'));
  series.push(lineSeries(g, d.prior, C_PRIOR_LINE, null));
  series.push(lineSeries(g, d.planck, C_PLANCK_LINE, d.planckFill ? 'rgba(150,160,245,0.18)' : null));
});

const chart = echarts.init(document.getElementById('c'), null, {renderer:'canvas', width:1661, height:1628});
chart.setOption({
  animation:false,
  backgroundColor:'#fff',
  grid:grids, xAxis:xAxes, yAxis:yAxes, series:series,
  graphic:[
    {type:'text', x:1142, y:86, style:{text:LEGEND_LABELS[0], font:'italic 72px "DejaVu Sans"', fill:'#a1a8ff', textVerticalAlign:'middle', verticalAlign:'middle'}},
    {type:'text', x:1142, y:192, style:{text:LEGEND_LABELS[1], font:'72px "DejaVu Sans"', fill:'#9d9d9d', textVerticalAlign:'middle', verticalAlign:'middle'}}
  ]
});
</script></body></html>
